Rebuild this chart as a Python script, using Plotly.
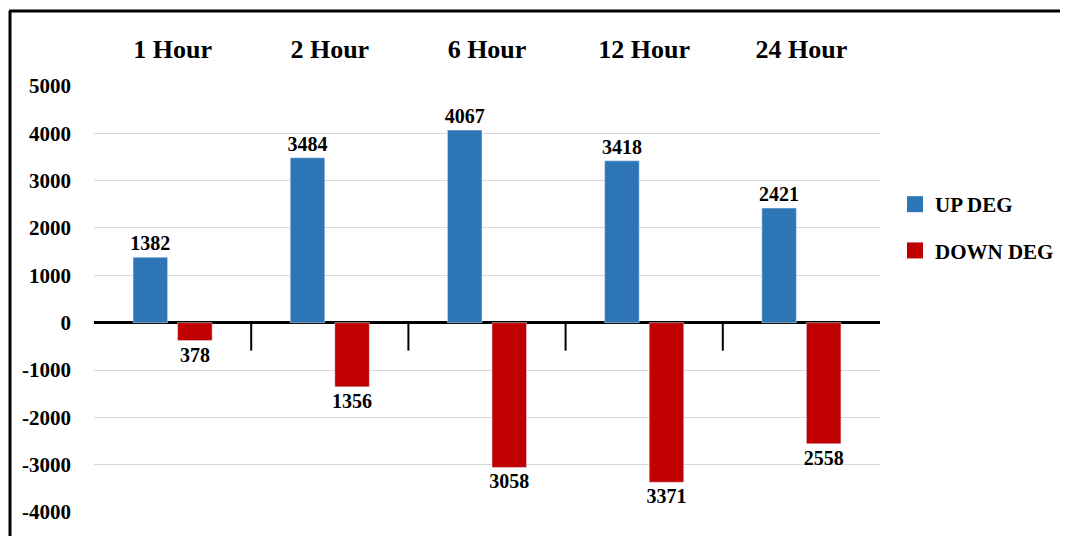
import plotly.graph_objects as go

categories = ["1 Hour", "2 Hour", "6 Hour", "12 Hour", "24 Hour"]
up_deg = [1382, 3484, 4067, 3418, 2421]
down_deg = [378, 1356, 3058, 3371, 2558]
series_names = ["UP DEG", "DOWN DEG"]
y_ticks = [-4000, -3000, -2000, -1000, 0, 1000, 2000, 3000, 4000, 5000]
y_tick_labels = [str(v) for v in y_ticks]

BLUE = "#2E75B6"
RED = "#C00000"
FONT = "Liberation Serif"

OFF = 8  # page body margin
W, H = 1068 - OFF, 536 - OFF
ML, MR, MT, MB = 94 - OFF, 188, 85 - OFF, 23

fig = go.Figure()
fig.add_trace(go.Bar(
    x=categories, y=up_deg, name=series_names[0], marker_color=BLUE,
    showlegend=False,
    text=[str(v) for v in up_deg], textposition="outside", constraintext="none",
    textfont=dict(family=FONT, size=20, color="black", weight="bold"),
    cliponaxis=False,
))
fig.add_trace(go.Bar(
    x=categories, y=[-v for v in down_deg], name=series_names[1], marker_color=RED,
    showlegend=False,
    text=[str(v) for v in down_deg], textposition="outside", constraintext="none",
    textfont=dict(family=FONT, size=20, color="black", weight="bold"),
    cliponaxis=False,
))
# legend-only entries with larger square swatches
for nm, col, grp in [(series_names[0], BLUE, "up"), (series_names[1], RED, "down")]:
    fig.add_trace(go.Scatter(
        x=[None], y=[None], mode="markers", name=nm, legendgroup=grp,
        marker=dict(symbol="square", size=16, color=col), showlegend=True,
    ))

# tick marks below zero line between categories
shapes = []
for i in range(len(categories) - 1):
    shapes.append(dict(type="line", xref="x", yref="y", x0=i + 0.5, x1=i + 0.5,
                       y0=0, y1=-590, line=dict(color="black", width=2)))

# figure border (top and left)
pw = W - ML - MR
ph = H - MT - MB
def px_x(p):
    return (p - OFF - ML) / pw
def px_y(p):
    return (H - MB - (p - OFF)) / ph
shapes.append(dict(type="line", xref="paper", yref="paper",
                   x0=px_x(9), x1=px_x(1068 + 5), y0=px_y(11), y1=px_y(11),
                   line=dict(color="black", width=3)))
shapes.append(dict(type="line", xref="paper", yref="paper",
                   x0=px_x(10), x1=px_x(10), y0=px_y(11), y1=px_y(536 + 5),
                   line=dict(color="black", width=3)))

fig.update_layout(
    width=W, height=H,
    margin=dict(l=ML, r=MR, t=MT, b=MB),
    paper_bgcolor="white", plot_bgcolor="white",
    barmode="group", bargap=0.433, bargroupgap=0.225,
    font=dict(family=FONT, color="black"),
    shapes=shapes,
    showlegend=True,
    legend=dict(xref="container", yref="container",
                x=(895 - OFF) / W, y=1 - (184 - OFF) / H,
                xanchor="left", yanchor="top",
                font=dict(family=FONT, size=21, color="black", weight="bold"),
                tracegroupgap=16, traceorder="grouped"),
    xaxis=dict(side="top", showgrid=False, showline=False, ticks="",
               ticklabelstandoff=21,
               tickfont=dict(family=FONT, size=26, color="black", weight="bold")),
    yaxis=dict(range=[-4020, 5020], tickvals=y_ticks, ticktext=y_tick_labels,
               showgrid=True, gridcolor="#d9d9d9", gridwidth=1,
               zeroline=True, zerolinecolor="black", zerolinewidth=2.5,
               showline=False, ticks="", ticklabelstandoff=22,
               tickfont=dict(family=FONT, size=21, color="black", weight="bold")),
)

fig.write_html("out.html")
